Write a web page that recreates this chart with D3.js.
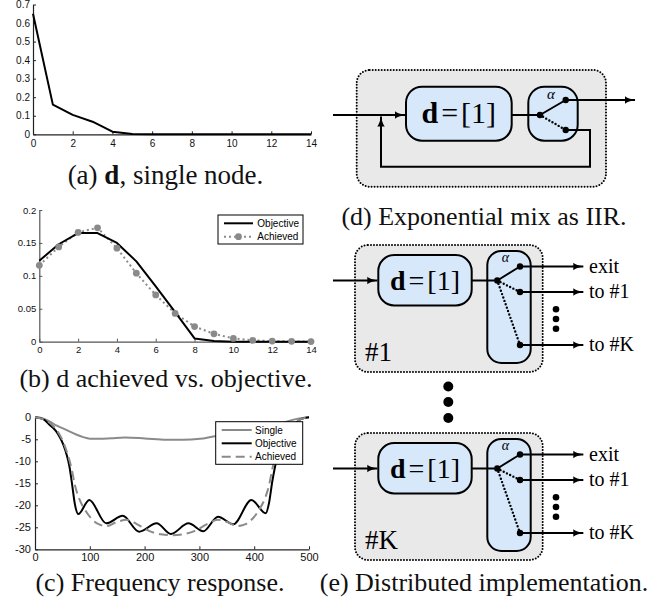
<!DOCTYPE html>
<html><head><meta charset="utf-8">
<script src="https://cdn.jsdelivr.net/npm/d3@7"></script>
<style>body{margin:0;background:#fff} svg{display:block}</style>
</head><body>
<svg id="fig" width="659" height="604"></svg>
<script>
// ---------- data ----------
const lags = [0,1,2,3,4,5,6,7,8,9,10,11,12,13,14];
const singleNode = [0.65,0.16,0.105,0.068,0.014,0.001,0,0,0,0,0,0,0,0,0];
const objectiveTaps = [0.123,0.148,0.165,0.165,0.150,0.122,0.084,0.045,0.005,0.001,0,0,0,0,0];
const achievedTaps = [0.116,0.144,0.166,0.173,0.142,0.104,0.071,0.043,0.023,0.012,0.005,0.002,0.001,0.0005,0.0002];

const freqSingle = [0,10,27,40,58,75,88,100,118,140,164,200,240,270,301,328,360,390,420,440,459,480,500];
const respSingle = [0,-0.1,-1.0,-1.9,-2.9,-3.9,-4.5,-4.85,-4.9,-4.75,-4.6,-4.8,-5.1,-5.1,-4.9,-4.3,-3.9,-3.4,-2.6,-1.9,-1.0,-0.3,0];
const freqObjective = [0,15,27,38,46,52,58,63,67,73,79,99,130,160,190,222,248,280,307,334,362,395,421,427,433,442,454,463,473,485,500];
const respObjective = [0,-0.4,-1.75,-3.1,-4.7,-6.3,-8.6,-11.3,-14.6,-19.9,-22,-18.8,-24.1,-22.4,-26,-24.1,-26.5,-24.1,-25.9,-22.6,-24.3,-18.8,-21.8,-19.5,-14.6,-9,-4.7,-2.9,-1.6,-0.4,0];
const freqAchieved = [0,20,35,46,58,67,73,80,91,105,118,131,149,167,185,208,230,250,270,292,315,333,351,369,382,395,409,420,427,433,442,454,465,480,500];
const respAchieved = [0,-0.7,-2.2,-4.2,-7.8,-11.8,-15.5,-18.3,-21,-23.3,-24.4,-24.7,-23.8,-23.3,-24.2,-25.8,-26.6,-26.8,-26.6,-25.8,-24.2,-23.3,-23.8,-24.7,-24.4,-23.3,-21,-18.3,-15.5,-11.8,-7.8,-4.2,-2.2,-0.7,0];

const lagTicks = [0,2,4,6,8,10,12,14];
const ticksA = [0,0.1,0.2,0.3,0.4,0.5,0.6,0.7];
const ticksB = [0,0.05,0.1,0.15,0.2];
const freqTicks = [0,100,200,300,400,500];
const dbTicks = [0,-5,-10,-15,-20,-25,-30];
const legendB = ["Objective","Achieved"];
const legendC = ["Single","Objective","Achieved"];

// ---------- setup ----------
const svg = d3.select("#fig");
const GRAY = "#8a8a8a";
const SANS = "'Liberation Sans', Arial, Helvetica, sans-serif";
const SERIF = "'Liberation Serif', 'Times New Roman', serif";

function axes(x, y, xt, yt, o) {
  const g = svg.append("g").attr("color", o.color || "#222");
  const xa = d3.axisBottom(x).tickValues(xt).tickSizeInner(-3).tickSizeOuter(0)
    .tickPadding(o.xpad).tickFormat(d => String(d));
  const ya = d3.axisLeft(y).tickValues(yt).tickSizeInner(-3).tickSizeOuter(0)
    .tickPadding(o.ypad).tickFormat(d => String(d));
  const gx = g.append("g").attr("transform", `translate(0,${y.range()[0]})`).call(xa);
  const gy = g.append("g").attr("transform", `translate(${x.range()[0]},0)`).call(ya);
  [gx, gy].forEach(a => {
    a.attr("font-family", SANS).attr("font-size", o.fs);
    a.selectAll("text").attr("fill", "#111");
    a.select(".domain").attr("stroke-width", 1.2);
  });
  return g;
}

// ---------- (a) ----------
const xa = d3.scaleLinear().domain([0,14]).range([33,311]);
const ya = d3.scaleLinear().domain([0,0.7]).range([134.3,4.5]);
axes(xa, ya, lagTicks, ticksA, {xpad:6, ypad:3, fs:10});
svg.append("path").datum(lags.map((l,i)=>[l,singleNode[i]]))
  .attr("d", d3.line().x(d=>xa(d[0])).y(d=>ya(d[1])))
  .attr("fill","none").attr("stroke","#000").attr("stroke-width",2).attr("stroke-linejoin","round");

// ---------- (b) ----------
const xb = d3.scaleLinear().domain([0,14]).range([39.3,311]);
const yb = d3.scaleLinear().domain([0,0.2]).range([341.7,210]);
axes(xb, yb, lagTicks, ticksB, {xpad:5, ypad:3, fs:9.5, color:"#555"});
svg.append("path").datum(lags.map((l,i)=>[l,achievedTaps[i]]))
  .attr("d", d3.line().x(d=>xb(d[0])).y(d=>yb(d[1])))
  .attr("fill","none").attr("stroke",GRAY).attr("stroke-width",2)
  .attr("stroke-dasharray","2,3");
svg.append("path").datum(lags.map((l,i)=>[l,objectiveTaps[i]]))
  .attr("d", d3.line().x(d=>xb(d[0])).y(d=>yb(d[1])))
  .attr("fill","none").attr("stroke","#000").attr("stroke-width",2).attr("stroke-linejoin","round");
svg.append("g").selectAll("circle").data(lags.map((l,i)=>[l,achievedTaps[i]])).join("circle")
  .attr("cx",d=>xb(d[0])).attr("cy",d=>yb(d[1])).attr("r",3.4).attr("fill",GRAY);
// legend b
{
  const g = svg.append("g");
  g.append("rect").attr("x",218).attr("y",215).attr("width",85).attr("height",29)
    .attr("fill","#fff").attr("stroke","#000").attr("stroke-width",1);
  const rows = [223.3, 236.7];
  legendB.forEach((t,i)=>{
    const ln = g.append("line").attr("x1",224).attr("x2",253).attr("y1",rows[i]).attr("y2",rows[i])
      .attr("stroke-width",2);
    if (i===0) ln.attr("stroke","#000");
    else { ln.attr("stroke",GRAY).attr("stroke-dasharray","2,3");
      g.append("circle").attr("cx",238.5).attr("cy",rows[i]).attr("r",3.4).attr("fill",GRAY); }
    g.append("text").attr("x",257.3).attr("y",rows[i]).attr("dy","0.35em")
      .attr("font-family",SANS).attr("font-size",10).text(t);
  });
}

// ---------- (c) ----------
const xc = d3.scaleLinear().domain([0,500]).range([35,309]);
const yc = d3.scaleLinear().domain([-30,0]).range([549.3,417.3]);
axes(xc, yc, freqTicks, dbTicks, {xpad:4, ypad:4, fs:11});
const lineC = d3.line().x(d=>xc(d[0])).y(d=>yc(d[1])).curve(d3.curveMonotoneX);
svg.append("path").datum(freqSingle.map((f,i)=>[f,respSingle[i]])).attr("d",lineC)
  .attr("fill","none").attr("stroke",GRAY).attr("stroke-width",2);
svg.append("path").datum(freqObjective.map((f,i)=>[f,respObjective[i]])).attr("d",lineC)
  .attr("fill","none").attr("stroke","#000").attr("stroke-width",2);
svg.append("path").datum(freqAchieved.map((f,i)=>[f,respAchieved[i]])).attr("d",lineC)
  .attr("fill","none").attr("stroke",GRAY).attr("stroke-width",2).attr("stroke-dasharray","9,5");
{
  const g = svg.append("g");
  g.append("rect").attr("x",215.7).attr("y",421.7).attr("width",87).attr("height",42.6)
    .attr("fill","#fff").attr("stroke","#000").attr("stroke-width",1);
  const rows = [430, 443.3, 456.7];
  const cols = [GRAY, "#000", GRAY];
  legendC.forEach((t,i)=>{
    const ln = g.append("line").attr("x1",221.7).attr("x2",251.7).attr("y1",rows[i]).attr("y2",rows[i])
      .attr("stroke",cols[i]).attr("stroke-width",2);
    if (i===2) ln.attr("stroke-dasharray","9,5");
    g.append("text").attr("x",255).attr("y",rows[i]).attr("dy","0.35em")
      .attr("font-family",SANS).attr("font-size",10).text(t);
  });
}

// ---------- captions ----------
function caption(x, y, parts, fs) {
  const t = svg.append("text").attr("x",x).attr("y",y).attr("text-anchor","middle")
    .attr("font-family",SERIF).attr("font-size",fs || 26).attr("fill","#111");
  parts.forEach(p => t.append("tspan").attr("font-weight", p[1] ? "bold" : null).text(p[0]));
}
caption(165.5, 184, [["(a) ",0],["d",1],[", single node.",0]], 27);
caption(166, 387, [["(b) ",0],["d",0],[" achieved vs. objective.",0]]);
caption(160, 591, [["(c) Frequency response.",0]]);
caption(484, 225, [["(d) Exponential mix as IIR.",0]]);
caption(484, 591, [["(e) Distributed implementation.",0]]);

// ---------- diagrams ----------
const defs = svg.append("defs");
defs.append("marker").attr("id","arr").attr("viewBox","0 -5 11 10").attr("refX",10).attr("refY",0)
  .attr("markerUnits","userSpaceOnUse").attr("markerWidth",11).attr("markerHeight",10)
  .attr("orient","auto")
  .append("path").attr("d","M0,-3.8 Q3,-1.2 10.5,0 Q3,1.2 0,3.8 Z").attr("fill","#000");

const BLUE = "#d6e8fa", LGRAY = "#e9e9e9";
function outer(x,y,w,h){
  svg.append("rect").attr("x",x).attr("y",y).attr("width",w).attr("height",h).attr("rx",13)
    .attr("fill",LGRAY).attr("stroke","#000").attr("stroke-width",2)
    .attr("stroke-dasharray","0,3").attr("stroke-linecap","round");
}
function box(x,y,w,h,r){
  svg.append("rect").attr("x",x).attr("y",y).attr("width",w).attr("height",h).attr("rx",r)
    .attr("fill",BLUE).attr("stroke","#000").attr("stroke-width",2);
}
function wire(d, arrow, dotted){
  const p = svg.append("path").attr("d",d).attr("fill","none").attr("stroke","#000").attr("stroke-width",2);
  if (arrow) p.attr("marker-end","url(#arr)");
  if (dotted) p.attr("stroke-dasharray","0,3.6").attr("stroke-linecap","round").attr("stroke-width",2.4);
}
function pin(x,y,r){ svg.append("circle").attr("cx",x).attr("cy",y).attr("r",r||3.2).attr("fill","#000"); }
function dlabel(cx, cy, fs){
  const t = svg.append("text").attr("x",cx).attr("y",cy).attr("dy","0.33em").attr("text-anchor","middle")
    .attr("font-family",SERIF).attr("font-size",fs).attr("fill","#000");
  t.append("tspan").attr("font-weight","bold").text("d");
  t.append("tspan").attr("dx",3).text("=");
  t.append("tspan").attr("dx",3).text("[1]");
}
function alpha(x,y,fs){
  svg.append("text").attr("x",x).attr("y",y).attr("text-anchor","middle").attr("font-family",SERIF)
    .attr("font-style","italic").attr("font-size",fs).text("α");
}

// (d)
outer(356.7, 70, 249.3, 116.7);
box(406, 86.7, 105.7, 54, 16);
box(528.3, 86.7, 49.4, 54, 16);
wire("M333,115 H405", true);
wire("M565.7,130 H590 V166.7 H381 V116.5", true);
wire("M511.7,115 H540");
wire("M540,115 L565.7,100");
wire("M540,115 L565.7,130", false, true);
wire("M565.7,100 H635", true);
pin(540,115); pin(565.7,100); pin(565.7,130);
dlabel(458.8, 113, 30);
alpha(551, 99, 15);

// (e)
function node(T, name){
  outer(355, T, 187.7, 127);
  box(378.3, T+10, 93.4, 50.5, 16);
  box(487.3, T+6, 43.4, 112, 14);
  wire(`M333,${T+35.5} H377.3`, true);
  wire(`M471.7,${T+35.5} H497.3`);
  const pv = [497.3, T+35.5];
  const pins = [T+21.5, T+47, T+100];
  wire(`M${pv[0]},${pv[1]} L520,${pins[0]}`);
  wire(`M${pv[0]},${pv[1]} L520,${pins[1]}`, false, true);
  wire(`M${pv[0]},${pv[1]} L520,${pins[2]}`, false, true);
  const labs = ["exit","to #1","to #K"];
  pins.forEach((py,i)=>{
    wire(`M520,${py} H583.3`, true);
    pin(520,py);
    svg.append("text").attr("x",589).attr("y",py).attr("dy","0.3em").attr("font-family",SERIF)
      .attr("font-size",20).text(labs[i]);
  });
  pin(pv[0],pv[1]);
  [T+64.3, T+74, T+83.7].forEach(y=>pin(556,y,3.3));
  alpha(505.5, T+17, 14);
  dlabel(425, T+35.5, 28);
  svg.append("text").attr("x",365).attr("y",T+115.5).attr("font-family",SERIF).attr("font-size",27).text(name);
}
node(245, "#1");
node(433, "#K");
[386.5, 402, 418].forEach(y=>pin(448.3,y,5));
</script>
</body></html>
